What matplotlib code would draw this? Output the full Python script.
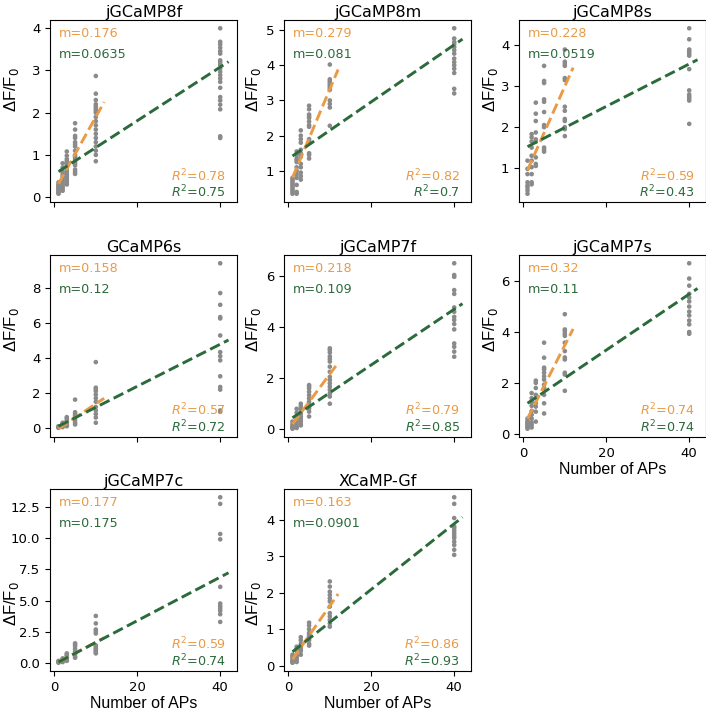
import numpy as np
import matplotlib
matplotlib.use("Agg")
import matplotlib.pyplot as plt

# ---------------- data ----------------
AP_COUNTS = [1, 2, 3, 5, 10, 40]

names = ["jGCaMP8f", "jGCaMP8m", "jGCaMP8s", "GCaMP6s",
         "jGCaMP7f", "jGCaMP7s", "jGCaMP7c", "XCaMP-Gf"]

jGCaMP8f_vals = [
    [0.35, 0.3, 0.28, 0.25, 0.22, 0.2, 0.18, 0.15, 0.12, 0.1, 0.08],
    [0.8, 0.7, 0.6, 0.55, 0.5, 0.45, 0.4, 0.35, 0.3, 0.25, 0.2, 0.15],
    [1.08, 0.98, 0.9, 0.85, 0.8, 0.75, 0.7, 0.65, 0.6, 0.55, 0.5, 0.45, 0.4, 0.35, 0.3],
    [1.75, 1.6, 1.45, 1.4, 1.3, 1.25, 1.2, 1.1, 1.0, 0.95, 0.9, 0.85, 0.8, 0.75, 0.65, 0.6, 0.55],
    [2.87, 2.45, 2.3, 2.2, 2.15, 2.1, 2.05, 2.0, 1.9, 1.8, 1.7, 1.6, 1.5, 1.4, 1.3, 1.2, 1.1, 1.0, 0.85],
    [4.0, 3.68, 3.62, 3.54, 3.46, 3.4, 3.24, 3.19, 3.13, 3.05, 2.97, 2.89, 2.81, 2.73, 2.59, 2.37, 2.29, 2.19, 2.08, 1.44, 1.40],
]
jGCaMP8m_vals = [
    [0.8, 0.75, 0.7, 0.65, 0.6, 0.55, 0.5, 0.45, 0.4, 0.35],
    [1.55, 1.45, 1.35, 1.3, 1.25, 1.1, 1.0, 0.9, 0.8, 0.6, 0.4, 0.35],
    [2.15, 2.0, 1.9, 1.8, 1.6, 1.5, 1.4, 1.2, 1.1, 0.95, 0.85, 0.75],
    [2.85, 2.75, 2.6, 2.55, 2.5, 2.4, 2.3, 2.25, 1.9, 1.85, 1.8, 1.5, 1.45, 1.35],
    [4.02, 3.6, 3.55, 3.5, 3.45, 3.4, 3.35, 3.3, 3.0, 2.9, 2.8, 2.28],
    [5.05, 4.76, 4.66, 4.6, 4.52, 4.43, 4.33, 4.19, 4.09, 4.0, 3.9, 3.78, 3.33, 3.2],
]
jGCaMP8s_vals = [
    [1.18, 0.98, 0.85, 0.65, 0.57, 0.52, 0.45, 0.37],
    [1.83, 1.75, 1.65, 1.5, 1.3, 1.18, 1.02, 0.85, 0.65, 0.6],
    [2.6, 2.33, 2.15, 1.87, 1.7, 1.65, 1.26, 1.1, 1.05],
    [3.5, 3.13, 3.08, 2.68, 2.62, 2.37, 2.05, 2.0, 1.5, 1.45, 1.4],
    [3.9, 3.6, 3.55, 3.5, 3.2, 3.15, 2.5, 2.4, 2.2, 2.15, 2.0, 1.95, 1.78],
    [4.42, 4.15, 3.9, 3.85, 3.8, 3.75, 3.42, 2.9, 2.8, 2.75, 2.7, 2.65, 2.08],
]
GCaMP6s_vals = [
    [0.1, 0.08, 0.05, 0.03, 0.01],
    [0.3, 0.25, 0.2, 0.15, 0.1, 0.05],
    [0.62, 0.55, 0.45, 0.35, 0.3, 0.2, 0.15, 0.1],
    [1.62, 0.9, 0.8, 0.7, 0.6, 0.45, 0.3, 0.2],
    [3.76, 2.3, 2.2, 2.1, 1.9, 1.7, 1.5, 1.2, 1.0, 0.8, 0.6, 0.3],
    [9.4, 7.7, 7.03, 6.33, 6.25, 5.28, 4.33, 4.1, 3.86, 2.95, 2.34, 2.19, 1.0, 0.92],
]
jGCaMP7f_vals = [
    [0.3, 0.2, 0.15, 0.1, 0.05, 0.02],
    [0.8, 0.65, 0.5, 0.4, 0.3, 0.2, 0.1, 0.05],
    [1.0, 0.9, 0.8, 0.7, 0.6, 0.5, 0.4, 0.3, 0.2, 0.15],
    [1.73, 1.67, 1.6, 1.47, 1.34, 1.21, 1.08, 0.95, 0.82, 0.69, 0.5],
    [3.17, 3.1, 3.0, 2.85, 2.75, 2.65, 2.45, 2.25, 2.05, 1.93, 1.8, 1.67, 1.54, 1.4, 1.28, 1.0],
    [6.5, 6.04, 5.97, 5.45, 5.3, 4.77, 4.6, 4.4, 4.28, 4.12, 3.91, 3.36, 3.23, 3.04, 2.84],
]
jGCaMP7s_vals = [
    [0.6, 0.5, 0.45, 0.4, 0.35, 0.3, 0.25, 0.2],
    [1.6, 1.4, 1.25, 1.1, 0.9, 0.75, 0.6, 0.45, 0.35, 0.25],
    [2.09, 2.0, 1.8, 1.53, 1.4, 1.2, 1.07, 0.87, 0.48],
    [3.58, 2.99, 2.6, 2.53, 2.4, 2.26, 2.13, 1.93, 1.8, 1.53, 1.2, 0.8],
    [4.7, 4.1, 4.04, 3.94, 3.85, 3.58, 3.25, 3.0, 2.92, 2.4, 2.33, 1.69],
    [6.7, 6.1, 5.82, 5.5, 5.35, 5.2, 5.0, 4.8, 4.65, 4.45, 4.3, 4.0, 3.93],
]
jGCaMP7c_vals = [
    [0.15, 0.1, 0.05, 0.0],
    [0.35, 0.25, 0.2, 0.1, 0.05],
    [0.75, 0.65, 0.55, 0.4, 0.3, 0.2, 0.15],
    [1.56, 1.45, 1.3, 1.1, 0.9, 0.7, 0.5, 0.4],
    [3.76, 3.16, 2.67, 2.5, 2.35, 1.4, 1.3, 1.15, 1.05, 0.95, 0.85, 0.75],
    [13.3, 12.77, 10.35, 9.92, 6.1, 4.76, 4.55, 4.36, 4.17, 3.9, 3.28],
]
XCaMP_Gf_vals = [
    [0.3, 0.25, 0.2, 0.15, 0.12, 0.1, 0.08],
    [0.52, 0.45, 0.4, 0.3, 0.25, 0.2, 0.15, 0.1],
    [0.78, 0.7, 0.6, 0.5, 0.45, 0.4, 0.3],
    [1.18, 1.1, 1.0, 0.9, 0.85, 0.8, 0.7, 0.6, 0.55],
    [2.31, 2.17, 2.03, 1.94, 1.85, 1.76, 1.62, 1.44, 1.35, 1.25, 1.16, 1.07],
    [4.62, 4.44, 4.05, 3.82, 3.77, 3.7, 3.63, 3.56, 3.5, 3.4, 3.31, 3.18, 3.04],
]
all_vals = [jGCaMP8f_vals, jGCaMP8m_vals, jGCaMP8s_vals, GCaMP6s_vals,
            jGCaMP7f_vals, jGCaMP7s_vals, jGCaMP7c_vals, XCaMP_Gf_vals]

# short-range fit (1-10 APs) and full-range fit (1-40 APs)
slope_short = [0.176, 0.279, 0.228, 0.158, 0.218, 0.32, 0.177, 0.163]
icpt_short = [0.14, 0.53, 0.72, -0.2, -0.02, 0.28, -0.12, 0.01]
r2_short = ["0.78", "0.82", "0.59", "0.57", "0.79", "0.74", "0.59", "0.86"]
slope_long = [0.0635, 0.081, 0.0519, 0.12, 0.109, 0.11, 0.175, 0.0901]
icpt_long = [0.54, 1.34, 1.47, -0.02, 0.34, 1.09, -0.12, 0.29]
r2_long = ["0.75", "0.7", "0.43", "0.72", "0.85", "0.74", "0.74", "0.93"]
m_short_txt = ["0.176", "0.279", "0.228", "0.158", "0.218", "0.32", "0.177", "0.163"]
m_long_txt = ["0.0635", "0.081", "0.0519", "0.12", "0.109", "0.11", "0.175", "0.0901"]

FIT_X_SHORT = [1, 12]
FIT_X_LONG = [1, 42]

# ---------------- style ----------------
ORANGE = "#EA9A45"
GREEN = "#2B6A3B"
GRAY = "#8a8a8a"

plt.rcParams["font.family"] = ["DejaVu Sans"]
plt.rcParams["mathtext.fontset"] = "dejavusans"

fig = plt.figure(figsize=(7.06, 7.13), dpi=100)

col_left = [50, 284, 519]
ax_w = 187
row_top = [20, 255, 489]
ax_h = 182
W, H = 706, 713

# y-label placement (axes-fraction) per column / row
ylab_x = [-29 / ax_w, -21 / ax_w, -19 / ax_w]
ylab_y = [0.615, 0.59, 0.37]

show_xlabels = {6, 7, 5}

for i, name in enumerate(names):
    r, c = divmod(i, 3)
    ax = fig.add_axes([col_left[c] / W, 1 - (row_top[r] + ax_h) / H, ax_w / W, ax_h / H])
    vals = all_vals[i]
    for xa, ys in zip(AP_COUNTS, vals):
        ax.scatter(np.full(len(ys), xa), ys, s=11, color=GRAY, edgecolors="none", zorder=2)
    xs = np.array(FIT_X_SHORT, dtype=float)
    ax.plot(xs, icpt_short[i] + slope_short[i] * xs, "--", color=ORANGE, lw=2.1, zorder=3)
    xl = np.array(FIT_X_LONG, dtype=float)
    ax.plot(xl, icpt_long[i] + slope_long[i] * xl, "--", color=GREEN, lw=2.1, zorder=4)

    ax.set_title(name, fontsize=11.5, pad=2.5)
    ax.set_ylabel(r"ΔF/F$_0$", fontsize=12, family=["Liberation Sans", "DejaVu Sans"])
    ax.yaxis.set_label_coords(ylab_x[c], ylab_y[r])
    ax.set_xticks([0, 20, 40])
    ax.tick_params(labelsize=9.5)
    if i in show_xlabels:
        ax.set_xlabel("Number of APs", fontsize=11.5, family=["Liberation Sans", "DejaVu Sans"], labelpad=2)
    else:
        ax.set_xticklabels([])

    ax.text(0.05, 0.963, "m=" + m_short_txt[i], color=ORANGE, fontsize=9.2,
            transform=ax.transAxes, ha="left", va="top")
    ax.text(0.05, 0.845, "m=" + m_long_txt[i], color=GREEN, fontsize=9.2,
            transform=ax.transAxes, ha="left", va="top")
    ax.text(0.94, 0.10, r"$R^2$=" + r2_short[i], color=ORANGE, fontsize=9.2,
            transform=ax.transAxes, ha="right", va="bottom")
    ax.text(0.94, 0.012, r"$R^2$=" + r2_long[i], color=GREEN, fontsize=9.2,
            transform=ax.transAxes, ha="right", va="bottom")

fig.savefig("out.png", dpi=100)
